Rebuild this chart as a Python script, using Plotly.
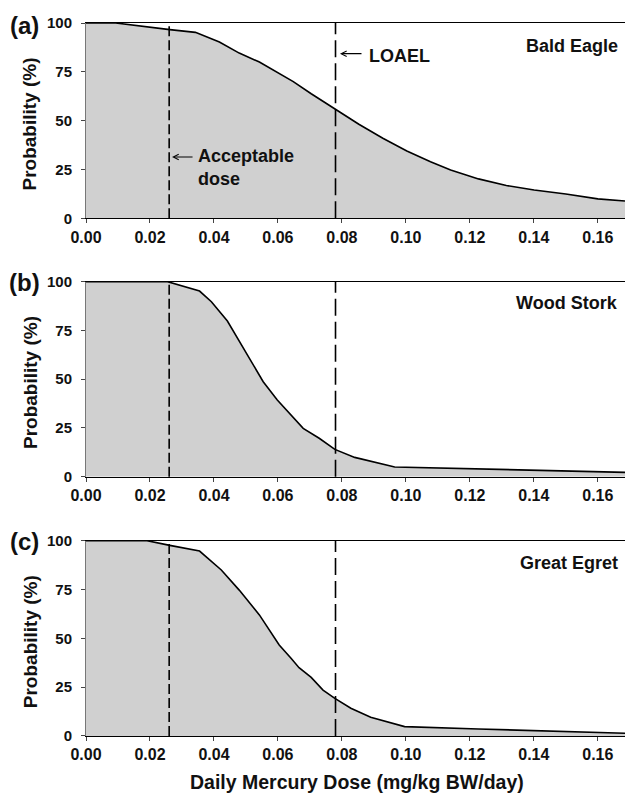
import plotly.graph_objects as go

# ---- data ----
dose_ticks = [0.00, 0.02, 0.04, 0.06, 0.08, 0.10, 0.12, 0.14, 0.16]
prob_ticks = [0, 25, 50, 75, 100]

eagle_x = [0, 0.0093, 0.0262, 0.0342, 0.0417, 0.0479, 0.0542, 0.0604, 0.0648, 0.0704, 0.0778,
           0.0853, 0.0928, 0.1003, 0.1077, 0.114, 0.1227, 0.1314, 0.1401, 0.150, 0.160, 0.1685]
eagle_y = [100, 100, 96.6, 95.2, 90.3, 84.6, 80, 74, 70, 63.8, 56,
           48.2, 41, 34.5, 29, 24.8, 20.2, 16.8, 14.5, 12.5, 10, 8.9]

stork_x = [0, 0.0255, 0.0355, 0.0392, 0.0442, 0.0486, 0.0529, 0.0554, 0.0598, 0.0641, 0.0679,
           0.0729, 0.0778, 0.084, 0.0903, 0.0965, 0.1685]
stork_y = [100, 100, 95.2, 89.7, 79.8, 67.5, 55.2, 48.7, 39.3, 31.6, 24.8,
           19.7, 14, 9.9, 7.4, 5, 2.2]

egret_x = [0, 0.0191, 0.0262, 0.0355, 0.0423, 0.0479, 0.0542, 0.0604, 0.0641, 0.0666, 0.0704,
           0.0741, 0.0778, 0.0828, 0.089, 0.0996, 0.1227, 0.1476, 0.1685]
egret_y = [100, 100, 97.6, 94.7, 85, 74.7, 62, 46.6, 39.8, 35, 30,
           23.5, 19.3, 14.2, 9.6, 4.8, 3.6, 2.6, 1.4]

species = ["Bald Eagle", "Wood Stork", "Great Egret"]
panel_labels = ["(a)", "(b)", "(c)"]
acceptable_dose = 0.026
loael = 0.078

FONT = "Liberation Sans, Arial, sans-serif"
W, H = 625, 794
ML, MR, MT, MB = 86, 0, 23, 58
XMAX = 0.1685
domains = [[0.726, 1.0], [0.3637, 0.6372], [0.0, 0.2739]]

fig = go.Figure()
series = [(eagle_x, eagle_y), (stork_x, stork_y), (egret_x, egret_y)]
for i, (xs, ys) in enumerate(series):
    ax = "" if i == 0 else str(i + 1)
    fig.add_trace(go.Scatter(
        x=xs, y=ys, mode="lines", fill="tozeroy", fillcolor="#d0d0d0",
        line=dict(color="black", width=1.6), xaxis="x" + ax, yaxis="y" + ax,
        showlegend=False, hoverinfo="skip"))

axis_font = dict(family=FONT, size=16, color="#111", weight="bold")
layout = dict(
    width=W, height=H, margin=dict(l=ML, r=MR, t=MT, b=MB),
    paper_bgcolor="white", plot_bgcolor="white", showlegend=False,
)
for i in range(3):
    sfx = "" if i == 0 else str(i + 1)
    layout["xaxis" + sfx] = dict(
        domain=[0, 1], range=[0, XMAX], anchor="y" + sfx,
        tickvals=dose_ticks, ticktext=[f"{v:.2f}" for v in dose_ticks],
        ticks="outside", ticklen=4, tickcolor="#444", tickwidth=1,
        showline=True, linecolor="black", linewidth=1, mirror=True,
        showgrid=False, zeroline=False, tickfont=axis_font)
    layout["yaxis" + sfx] = dict(
        domain=domains[i], range=[0, 100], anchor="x" + sfx,
        tickvals=prob_ticks, ticks="outside", ticklen=4, tickcolor="#444",
        showline=True, linecolor="#777", linewidth=1,
        showgrid=False, zeroline=False, ticklabelstandoff=6,
        tickfont=dict(family=FONT, size=15, color="#111", weight="bold"))
fig.update_layout(**layout)

shapes = []
annotations = []
title_font = dict(family=FONT, size=19, color="#111", weight="bold")
label_font = dict(family=FONT, size=18, color="#111", weight="bold")
panel_font = dict(family=FONT, size=24, color="#111", weight="bold")
species_y = [88.0, 89.1, 88.7]
panel_y = [0.997, 0.6367, 0.2725]
for i in range(3):
    sfx = "" if i == 0 else str(i + 1)
    for xv, dash in [(acceptable_dose, "10px,4px"), (loael, "17px,6px")]:
        shapes.append(dict(type="line", xref="x" + sfx, yref="y" + sfx + " domain",
                           x0=xv, x1=xv, y0=0, y1=1,
                           line=dict(color="black", width=1.6, dash=dash)))
    annotations.append(dict(text=species[i], xref="paper", yref="y" + sfx,
                            x=0.9907, y=species_y[i], xanchor="right", yanchor="middle",
                            showarrow=False, font=label_font))
    annotations.append(dict(text=panel_labels[i], xref="paper", yref="paper",
                            x=-0.115, y=panel_y[i], xanchor="center", yanchor="middle",
                            showarrow=False, font=panel_font))
    d0, d1 = domains[i]
    annotations.append(dict(text="Probability (%)", xref="paper", yref="paper",
                            x=-0.1039, y=(d0 + d1) / 2 - 0.004, textangle=-90,
                            xanchor="center", yanchor="middle", showarrow=False,
                            font=title_font))

# Panel (a) markers
annotations.append(dict(text="", x=0.0794, y=84.3, xref="x", yref="y",
                        showarrow=True, ax=23, ay=0, arrowhead=5, arrowsize=0.9,
                        arrowwidth=1.2, arrowcolor="black"))
annotations.append(dict(text="LOAEL", x=0.0878, y=82.9, xref="x", yref="y",
                        xanchor="left", yanchor="middle", showarrow=False, font=label_font))
annotations.append(dict(text="", x=0.0269, y=31.4, xref="x", yref="y",
                        showarrow=True, ax=22, ay=0, arrowhead=5, arrowsize=0.9,
                        arrowwidth=1.2, arrowcolor="black"))
annotations.append(dict(text="Acceptable<br>dose", x=0.0344, y=26.05, xref="x", yref="y",
                        xanchor="left", yanchor="middle", align="left", showarrow=False,
                        font=label_font))

annotations.append(dict(text="Daily Mercury Dose (mg/kg BW/day)", xref="paper", yref="paper",
                        x=0.502, y=-0.0652, xanchor="center", yanchor="middle",
                        showarrow=False, font=dict(family=FONT, size=19.5, color="#111", weight="bold")))

fig.update_layout(shapes=shapes, annotations=annotations)
fig.write_html("out.html", config={"displayModeBar": False},
               post_script="document.body.style.margin='0';document.body.style.padding='0';"
                           "document.body.style.overflow='hidden';")
